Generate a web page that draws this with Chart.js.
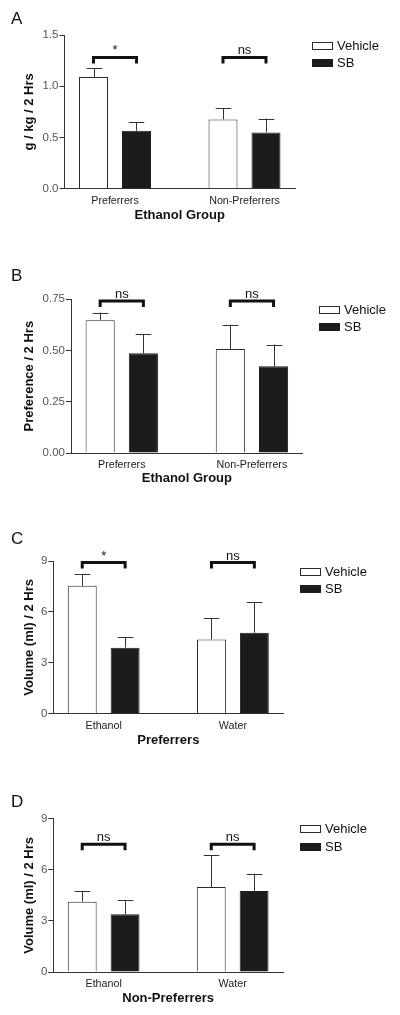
<!DOCTYPE html>
<html><head><meta charset="utf-8">
<script src="https://cdn.jsdelivr.net/npm/chart.js@4"></script>
<style>
html,body{margin:0;padding:0;background:#fff;width:400px;height:1015px;overflow:hidden;}
.panel{position:absolute;left:0;width:400px;}
.letter{position:absolute;left:11px;font:17px 'Liberation Sans',Arial,sans-serif;line-height:17px;color:#111;z-index:2;}
</style></head><body>
<div id="root"></div>
<script>
// ---------- data ----------
const seriesNames = ['Vehicle', 'SB'];

const groupsA = ['Preferrers', 'Non-Preferrers'];
const vehicleA = [1.09, 0.676];
const vehicleErrA = [0.088, 0.107];
const sbA = [0.565, 0.549];
const sbErrA = [0.087, 0.136];
const yTicksA = [0, 0.5, 1.0, 1.5];
const yTickLabelsA = ['0.0', '0.5', '1.0', '1.5'];
const bracketLevelsA = [1.281, 1.281];
const sigLabelsA = ['*', 'ns'];

const groupsB = ['Preferrers', 'Non-Preferrers'];
const vehicleB = [0.648, 0.507];
const vehicleErrB = [0.037, 0.119];
const sbB = [0.487, 0.423];
const sbErrB = [0.092, 0.106];
const yTicksB = [0, 0.25, 0.5, 0.75];
const yTickLabelsB = ['0.00', '0.25', '0.50', '0.75'];
const bracketLevelsB = [0.742, 0.742];
const sigLabelsB = ['ns', 'ns'];

const groupsC = ['Ethanol', 'Water'];
const vehicleC = [7.54, 4.38];
const vehicleErrC = [0.67, 1.24];
const sbC = [3.89, 4.77];
const sbErrC = [0.61, 1.79];
const yTicksC = [0, 3, 6, 9];
const yTickLabelsC = ['0', '3', '6', '9'];
const bracketLevelsC = [8.91, 8.91];
const sigLabelsC = ['*', 'ns'];

const groupsD = ['Ethanol', 'Water'];
const vehicleD = [4.13, 4.99];
const vehicleErrD = [0.64, 1.88];
const sbD = [3.39, 4.76];
const sbErrD = [0.84, 1.01];
const yTicksD = [0, 3, 6, 9];
const yTickLabelsD = ['0', '3', '6', '9'];
const bracketLevelsD = [7.5, 7.5];
const sigLabelsD = ['ns', 'ns'];

// ---------- panels ----------
const panels = [
  {letter:'A', yTitle:'g / kg / 2 Hrs', xTitle:'Ethanol Group', groups:groupsA, vehicle:vehicleA, vehicleErr:vehicleErrA, sb:sbA, sbErr:sbErrA, yTicks:yTicksA, yTickLabels:yTickLabelsA, brackets:bracketLevelsA, sig:sigLabelsA,
   box:{top:0, height:226, chartTop:35, chartBottom:188.7, chartLeft:64.5, chartRight:295, letterTop:9.8}},
  {letter:'B', yTitle:'Preference / 2 Hrs', xTitle:'Ethanol Group', groups:groupsB, vehicle:vehicleB, vehicleErr:vehicleErrB, sb:sbB, sbErr:sbErrB, yTicks:yTicksB, yTickLabels:yTickLabelsB, brackets:bracketLevelsB, sig:sigLabelsB,
   box:{top:250, height:236, chartTop:299.3, chartBottom:453, chartLeft:71, chartRight:302.7, letterTop:267}},
  {letter:'C', yTitle:'Volume (ml) / 2 Hrs', xTitle:'Preferrers', groups:groupsC, vehicle:vehicleC, vehicleErr:vehicleErrC, sb:sbC, sbErr:sbErrC, yTicks:yTicksC, yTickLabels:yTickLabelsC, brackets:bracketLevelsC, sig:sigLabelsC,
   box:{top:505, height:245, chartTop:561, chartBottom:713.7, chartLeft:53.3, chartRight:283.3, letterTop:529.5}},
  {letter:'D', yTitle:'Volume (ml) / 2 Hrs', xTitle:'Non-Preferrers', groups:groupsD, vehicle:vehicleD, vehicleErr:vehicleErrD, sb:sbD, sbErr:sbErrD, yTicks:yTicksD, yTickLabels:yTickLabelsD, brackets:bracketLevelsD, sig:sigLabelsD,
   box:{top:765, height:245, chartTop:818.7, chartBottom:972, chartLeft:53.3, chartRight:283, letterTop:793}}
];

const FONT = "'Liberation Sans', Arial, Helvetica, sans-serif";
Chart.defaults.font.family = FONT;
Chart.defaults.animation = false;

const root = document.getElementById('root');

panels.forEach(p => {
  const b = p.box;
  const div = document.createElement('div');
  div.className = 'panel';
  div.style.top = b.top + 'px';
  div.style.height = b.height + 'px';
  const cv = document.createElement('canvas');
  div.appendChild(cv);
  root.appendChild(div);
  const lt = document.createElement('div');
  lt.className = 'letter';
  lt.style.top = b.letterTop + 'px';
  lt.textContent = p.letter;
  root.appendChild(lt);

  const xHeight = b.top + b.height - b.chartBottom;

  const errPlugin = {
    id: 'errBars',
    afterDatasetsDraw(chart) {
      const ctx = chart.ctx, ys = chart.scales.y;
      chart.data.datasets.forEach((ds, i) => {
        const meta = chart.getDatasetMeta(i);
        meta.data.forEach((bar, j) => {
          const v = ds.data[j].y, e = ds.errors[j];
          const x = Math.round(bar.x) + 0.5;
          const yt = ys.getPixelForValue(v + e);
          const half = bar.width * 0.27;
          ctx.save();
          ctx.strokeStyle = '#333';
          ctx.lineWidth = 1;
          ctx.beginPath();
          ctx.moveTo(x, bar.y);
          ctx.lineTo(x, yt);
          ctx.moveTo(x - half, Math.round(yt) + 0.5);
          ctx.lineTo(x + half, Math.round(yt) + 0.5);
          ctx.stroke();
          ctx.restore();
        });
      });
    }
  };

  const bracketPlugin = {
    id: 'sigBrackets',
    afterDatasetsDraw(chart) {
      const ctx = chart.ctx, ys = chart.scales.y;
      const m0 = chart.getDatasetMeta(0), m1 = chart.getDatasetMeta(1);
      p.brackets.forEach((lvl, j) => {
        const x1 = m0.data[j].x, x2 = m1.data[j].x;
        const y = ys.getPixelForValue(lvl);
        ctx.save();
        ctx.strokeStyle = '#111';
        ctx.lineWidth = 3;
        ctx.lineJoin = 'miter';
        ctx.beginPath();
        ctx.moveTo(x1, y + 6);
        ctx.lineTo(x1, y);
        ctx.lineTo(x2, y);
        ctx.lineTo(x2, y + 6);
        ctx.stroke();
        ctx.fillStyle = '#111';
        ctx.font = '13px ' + FONT;
        ctx.textAlign = 'center';
        ctx.textBaseline = 'alphabetic';
        ctx.fillText(p.sig[j], (x1 + x2) / 2, y - 3);
        ctx.restore();
      });
    }
  };

  const legendPlugin = {
    id: 'sideLegend',
    afterDraw(chart) {
      const ctx = chart.ctx, ca = chart.chartArea;
      const x0 = Math.round(ca.right + 16.5);
      chart.data.datasets.forEach((ds, i) => {
        const cy = Math.round(ca.top + 10.5 + i * 17.5);
        ctx.save();
        ctx.fillStyle = ds.backgroundColor;
        ctx.fillRect(x0, cy - 4, 21, 8);
        ctx.strokeStyle = ds.borderColor;
        ctx.lineWidth = 1;
        ctx.strokeRect(x0 + 0.5, cy - 3.5, 20, 7);
        ctx.fillStyle = '#111';
        ctx.font = '13px ' + FONT;
        ctx.textAlign = 'left';
        ctx.textBaseline = 'middle';
        ctx.fillText(ds.label, x0 + 25, cy + 0.5);
        ctx.restore();
      });
    }
  };

  new Chart(cv, {
    type: 'bar',
    data: {
      datasets: [
        {label: seriesNames[0], data: p.vehicle.map((v, i) => ({x: i, y: v})), errors: p.vehicleErr,
         backgroundColor: '#ffffff', borderColor: '#2a2a2a', borderWidth: 1, borderSkipped: 'bottom',
         categoryPercentage: 0.664, barPercentage: 0.674},
        {label: seriesNames[1], data: p.sb.map((v, i) => ({x: i, y: v})), errors: p.sbErr,
         backgroundColor: '#1c1c1c', borderColor: '#1c1c1c', borderWidth: 1, borderSkipped: 'bottom',
         categoryPercentage: 0.664, barPercentage: 0.674}
      ]
    },
    options: {
      responsive: true,
      maintainAspectRatio: false,
      devicePixelRatio: 1,
      layout: {padding: {left: 0, right: 400 - b.chartRight, top: b.chartTop - b.top, bottom: 0}},
      plugins: {legend: {display: false}, tooltip: {enabled: false}},
      scales: {
        x: {
          type: 'linear',
          min: -0.39, max: 1.39,
          offset: false,
          afterBuildTicks: s => { s.ticks = p.groups.map((g, i) => ({value: i})); },
          afterFit: s => { s.height = xHeight; },
          ticks: {
            callback: v => p.groups[v],
            autoSkip: false, maxRotation: 0, padding: 6,
            color: '#222', font: {size: 10.7}
          },
          grid: {display: false, drawTicks: false, tickLength: 0},
          border: {display: true, color: '#333', width: 1},
          title: {display: true, text: p.xTitle, color: '#111',
                  font: {size: 13, weight: 'bold'}, padding: {top: 0, bottom: Math.max(0, xHeight - 26.5 - 7.8)}}
        },
        y: {
          min: 0, max: p.yTicks[p.yTicks.length - 1],
          afterBuildTicks: s => { s.ticks = p.yTicks.map(v => ({value: v})); },
          afterFit: s => { s.width = b.chartLeft; },
          ticks: {
            callback: (v, i) => p.yTickLabels[i],
            padding: 1, color: '#555', font: {size: 11.5}
          },
          grid: {display: true, drawOnChartArea: false, drawTicks: true, tickLength: 5, color: '#333', lineWidth: 1},
          border: {display: true, color: '#333', width: 1},
          title: {display: true, text: p.yTitle, color: '#111',
                  font: {size: 13, weight: 'bold'}, padding: {top: 22, bottom: 0}}
        }
      }
    },
    plugins: [errPlugin, bracketPlugin, legendPlugin]
  });
});
</script>
</body></html>
